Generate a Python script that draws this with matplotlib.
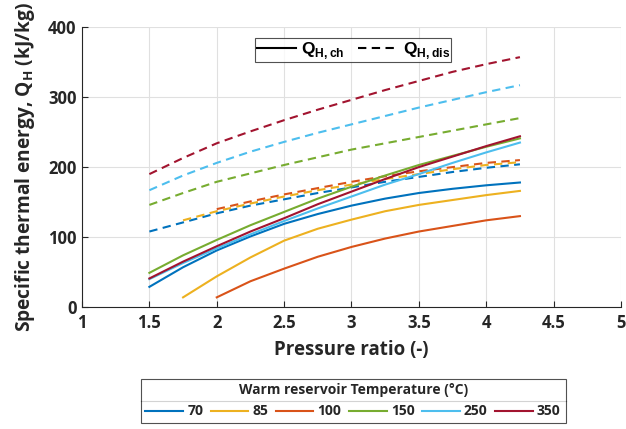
import matplotlib
matplotlib.use("Agg")
import matplotlib.pyplot as plt
from matplotlib.lines import Line2D

FONT = "Open Sans"

# pressure ratio grid
pr = [1.5, 1.75, 2.0, 2.25, 2.5, 2.75, 3.0, 3.25, 3.5, 3.75, 4.0, 4.25]
temps = ["70", "85", "100", "150", "250", "350"]
colors = ["#0072BD", "#EDB120", "#D95319", "#77AC30", "#4DBEEE", "#A2142F"]

# charge (solid) -- 85 starts at 1.75, 100 starts at 2.0
q_ch_70 = [29, 57, 81, 101, 119, 133, 145, 155, 163, 169, 174, 178]
q_ch_85 = [14, 44, 71, 95, 112, 125, 137, 146, 153, 160, 166]
q_ch_100 = [14, 37, 55, 72, 86, 98, 108, 116, 124, 130]
q_ch_150 = [49, 74, 96, 117, 136, 155, 172, 188, 203, 216, 229, 241]
q_ch_250 = [40, 63, 84, 104, 123, 141, 158, 175, 190, 206, 221, 235]
q_ch_350 = [41, 65, 87, 108, 127, 147, 165, 183, 200, 215, 230, 244]

# discharge (dashed)
q_dis_70 = [108, 121, 134, 145, 154, 163, 171, 179, 186, 193, 199, 204]
q_dis_85 = [124, 137, 148, 158, 167, 175, 183, 190, 197, 203, 207]
q_dis_100 = [140, 151, 161, 170, 179, 187, 194, 200, 206, 210]
q_dis_150 = [146, 163, 179, 191, 203, 214, 225, 234, 243, 252, 261, 270]
q_dis_250 = [167, 188, 206, 222, 236, 249, 261, 273, 285, 296, 307, 317]
q_dis_350 = [190, 213, 234, 251, 267, 282, 296, 310, 323, 336, 347, 357]

q_ch = [q_ch_70, q_ch_85, q_ch_100, q_ch_150, q_ch_250, q_ch_350]
q_dis = [q_dis_70, q_dis_85, q_dis_100, q_dis_150, q_dis_250, q_dis_350]

fig = plt.figure(figsize=(6.26, 4.29), dpi=100)
ax = fig.add_axes([0.131, 0.284, 0.861, 0.653])

dash = (0, (4, 2.6))
handles = []
for t, c, ych, ydis in zip(temps, colors, q_ch, q_dis):
    h, = ax.plot(pr[len(pr) - len(ych):], ych, color=c, lw=1.5, label=t)
    ax.plot(pr[len(pr) - len(ydis):], ydis, color=c, lw=1.5, ls=dash)
    handles.append(h)

ax.set_xlim(1, 5)
ax.set_ylim(0, 400)
ax.set_xticks([1, 1.5, 2, 2.5, 3, 3.5, 4, 4.5, 5])
ax.set_xticklabels(["1", "1.5", "2", "2.5", "3", "3.5", "4", "4.5", "5"])
ax.set_yticks([0, 100, 200, 300, 400])
ax.grid(True, color="#e0e0e0", lw=0.8)
ax.set_axisbelow(True)
for s in ("top", "right"):
    ax.spines[s].set_visible(False)
for s in ("left", "bottom"):
    ax.spines[s].set_color("#262626")
    ax.spines[s].set_linewidth(0.8)
ax.tick_params(direction="in", length=4, width=0.8, colors="#262626", labelsize=12, pad=4)
ax.tick_params(axis="x", pad=5)
for lab in ax.get_xticklabels() + ax.get_yticklabels():
    lab.set_fontfamily(FONT)
    lab.set_fontweight("bold")
    lab.set_color("#262626")

ax.set_xlabel("Pressure ratio (-)", fontfamily=FONT, fontweight="bold", fontsize=13.5,
              labelpad=6, color="#262626")
ax.set_ylabel(r"Specific thermal energy, Q$_{\mathregular{H}}$ (kJ/kg)", fontfamily=FONT,
              fontweight="bold", fontsize=13.8, labelpad=8, color="#262626")

# line style legend
style_h = [Line2D([], [], color="black", lw=1.5), Line2D([], [], color="black", lw=1.5, ls=dash)]
leg1 = ax.legend(style_h, [r"Q$_{\mathregular{H,ch}}$", r"Q$_{\mathregular{H,dis}}$"], loc="upper center",
                 bbox_to_anchor=(0.503, 0.961), ncol=2, frameon=True, fancybox=False,
                 prop={"family": "Liberation Sans", "weight": "bold", "size": 12.5},
                 edgecolor="#262626", handlelength=2.3, handletextpad=0.25, columnspacing=0.8,
                 borderpad=0.1, borderaxespad=0)
leg1.get_frame().set_linewidth(0.8)

# temperature legend
leg2 = fig.legend(handles, temps, loc="center", bbox_to_anchor=(0.564, 0.0655), ncol=6,
                  frameon=True, fancybox=False, edgecolor="#262626",
                  handlelength=2.7, handletextpad=0.3, columnspacing=0.55,
                  title="Warm reservoir Temperature (°C)", borderpad=0.35,
                  prop={"family": FONT, "weight": "bold", "size": 10},
                  title_fontproperties={"family": FONT, "weight": "bold", "size": 10})
leg2.get_frame().set_linewidth(0.8)
leg2.get_title().set_color("#262626")
for txt in leg2.get_texts():
    txt.set_color("#262626")

fig.canvas.draw()
bb = leg2.get_window_extent().transformed(fig.transFigure.inverted())
ysep = 1 - 401 / 429
fig.add_artist(Line2D([bb.x0, bb.x1], [ysep, ysep], color="#262626", lw=0.8, transform=fig.transFigure))

fig.savefig("out.png", dpi=100)
